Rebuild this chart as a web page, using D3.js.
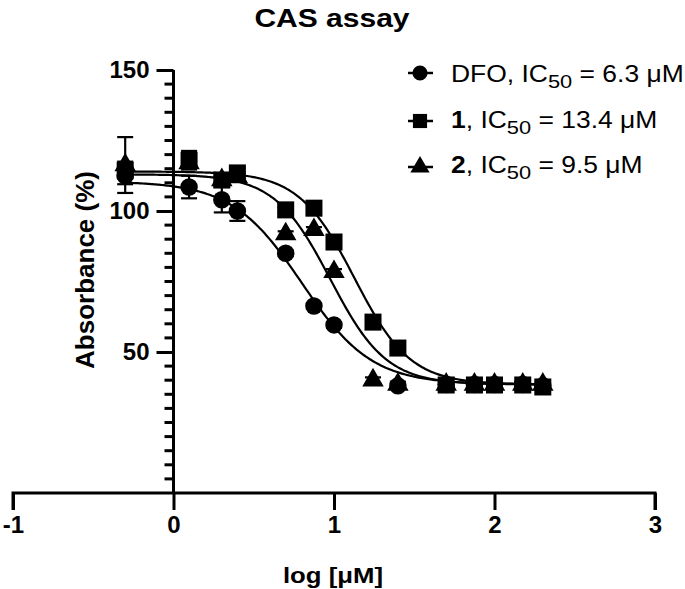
<!DOCTYPE html>
<html><head><meta charset="utf-8">
<script src="https://cdn.jsdelivr.net/npm/d3@7"></script>
<style>
html,body{margin:0;padding:0;background:#fff;}
text{font-family:"Liberation Sans",Arial,sans-serif;}
</style></head>
<body><svg id="chart" width="685" height="589"></svg>
<script>
// ---- data ----
const xTicks = [-1, 0, 1, 2, 3];
const yMajorTicks = [50, 100, 150];
const seriesNames = ["DFO", "1", "2"];
const ic50Values = [6.3, 13.4, 9.5];

const dfoX = [-0.301, 0.097, 0.301, 0.398, 0.699, 0.875, 1.0, 1.398, 1.699, 1.875, 2.0, 2.176, 2.301];
const dfoY = [112.5, 108.5, 104, 100, 85, 66.3, 59.6, 38, 38.5, 38.5, 38.5, 38.5, 38];
const dfoErr = [3, 4, 4.5, 3.5, 1, 1, 1, 1, 1, 1, 1, 1, 1];

const c1X = [-0.301, 0.097, 0.301, 0.398, 0.699, 0.875, 1.0, 1.243, 1.398, 1.699, 1.875, 2.0, 2.176, 2.301];
const c1Y = [114.5, 118, 111, 113.5, 100.4, 101, 89, 60.6, 51.4, 38.3, 38.3, 38.3, 38.3, 37.6];
const c1Err = [3, 3.3, 2, 2, 1, 1, 1, 1, 1, 1, 1, 1, 1, 1];

const c2X = [-0.301, 0.097, 0.301, 0.398, 0.699, 0.875, 1.0, 1.243, 1.398, 1.699, 1.875, 2.0, 2.176, 2.301];
const c2Y = [116.3, 117, 111, 112, 91.8, 93.3, 78.4, 40, 38.5, 38.5, 38.5, 38.5, 38.5, 38.5];
const c2Err = [9.9, 1, 1, 1, 1, 1, 1, 1, 1, 1, 1, 1, 1, 1];

// fitted 4PL parameters (top, bottom, hill); IC50 from legend
const fitTop = [110.5, 114, 113];
const fitBottom = [38.5, 38.5, 38.5];
const fitHill = [-2, -2.5, -2.5];
const fitRange = [-0.301, 2.301];

// ---- layout ----
const svg = d3.select("#chart");
const x = d3.scaleLinear().domain([-1, 3]).range([13, 655]);
const y = d3.scaleLinear().domain([0, 150]).range([493, 70]);
const FONT = '"Liberation Sans",Arial,sans-serif';

// title
svg.append("text").attr("transform", "translate(332,27) scale(1.2,1)").attr("text-anchor", "middle")
  .attr("font-size", 25).attr("font-weight", "bold").text("CAS assay");

// x axis
const xAxis = d3.axisBottom(x).tickValues(xTicks).tickSize(17).tickPadding(6)
  .tickFormat(d => String(d));
const gx = svg.append("g").attr("transform", `translate(0,${y(0)})`).call(xAxis);
gx.select(".domain").attr("stroke", "#000").attr("stroke-width", 3)
  .attr("d", `M${x(-1)},17V0H${x(3)}V17`);
gx.selectAll(".tick line").attr("stroke", "#000").attr("stroke-width", 3);
gx.selectAll(".tick text").attr("font-family", FONT).attr("font-size", 24)
  .attr("font-weight", "bold").attr("fill", "#000");

// y axis
const yAxis = d3.axisLeft(y).tickValues(yMajorTicks).tickSize(17).tickPadding(7)
  .tickFormat(d => String(d));
const gy = svg.append("g").attr("transform", `translate(${x(0)},0)`).call(yAxis);
gy.select(".domain").attr("stroke", "#000").attr("stroke-width", 3)
  .attr("d", `M0,${y(150)}V${y(0)}`);
gy.selectAll(".tick line").attr("stroke", "#000").attr("stroke-width", 3);
gy.selectAll(".tick text").attr("font-family", FONT).attr("font-size", 24)
  .attr("font-weight", "bold").attr("fill", "#000");
const minor = d3.range(5, 150, 5).filter(v => v % 50 !== 0);
gy.selectAll(".minor").data(minor).enter().append("line")
  .attr("x1", -9).attr("x2", 0).attr("y1", d => y(d)).attr("y2", d => y(d))
  .attr("stroke", "#000").attr("stroke-width", 3);

// axis titles
svg.append("text").attr("transform", "translate(94,270) rotate(-90)")
  .attr("text-anchor", "middle").attr("font-size", 26).attr("font-weight", "bold")
  .text("Absorbance (%)");
svg.append("text").attr("transform", "translate(333,583) scale(1.12,1)").attr("text-anchor", "middle")
  .attr("font-size", 23).attr("font-weight", "bold").text("log [μM]");

// curves
const line = d3.line().x(d => x(d[0])).y(d => y(d[1]));
const curveXs = d3.range(fitRange[0], fitRange[1] + 0.0001, 0.01);
seriesNames.forEach((n, i) => {
  const logIC = Math.log10(ic50Values[i]);
  const pts = curveXs.map(v => [v, fitBottom[i] + (fitTop[i] - fitBottom[i]) /
    (1 + Math.pow(10, (logIC - v) * fitHill[i]))]);
  svg.append("path").attr("d", line(pts)).attr("fill", "none")
    .attr("stroke", "#000").attr("stroke-width", 2.2);
});

// error bars + markers
const series = [
  {xs: dfoX, ys: dfoY, es: dfoErr, sym: d3.symbolCircle, size: 240},
  {xs: c2X, ys: c2Y, es: c2Err, sym: d3.symbolTriangle, size: 200},
  {xs: c1X, ys: c1Y, es: c1Err, sym: d3.symbolSquare, size: 290}
];
series.forEach(s => {
  const pts = s.xs.map((v, i) => ({x: v, y: s.ys[i], e: s.es[i]}));
  const g = svg.append("g");
  pts.forEach(p => {
    g.append("line").attr("x1", x(p.x)).attr("x2", x(p.x))
      .attr("y1", y(p.y - p.e)).attr("y2", y(p.y + p.e))
      .attr("stroke", "#000").attr("stroke-width", 2.2);
    [p.y - p.e, p.y + p.e].forEach(v => g.append("line")
      .attr("x1", x(p.x) - 8).attr("x2", x(p.x) + 8).attr("y1", y(v)).attr("y2", y(v))
      .attr("stroke", "#000").attr("stroke-width", 2.2));
  });
  g.selectAll("path.m").data(pts).enter().append("path")
    .attr("transform", d => `translate(${x(d.x)},${y(d.y)})`)
    .attr("d", d3.symbol().type(s.sym).size(s.size)).attr("fill", "#000");
});

// legend
const legSyms = [d3.symbolCircle, d3.symbolSquare, d3.symbolTriangle];
const legSizes = [180, 200, 160];
const legY = [73, 121, 167];
const legBase = [82, 128, 173];
seriesNames.forEach((n, i) => {
  const g = svg.append("g").attr("transform", `translate(420,${legY[i]})`);
  g.append("line").attr("x1", -12).attr("x2", 13).attr("stroke", "#000").attr("stroke-width", 2.5);
  g.append("path").attr("d", d3.symbol().type(legSyms[i]).size(legSizes[i])).attr("fill", "#000");
  const t = svg.append("text").attr("transform", `translate(451,${legBase[i]}) scale(1.15,1)`)
    .attr("font-size", 23);
  t.append("tspan").attr("font-weight", i === 0 ? "normal" : "bold").text(n);
  t.append("tspan").text(", IC");
  t.append("tspan").attr("font-size", 19).attr("dy", 6).text("50");
  t.append("tspan").attr("dy", -6).text(" = " + ic50Values[i] + " μM");
});
</script></body></html>
